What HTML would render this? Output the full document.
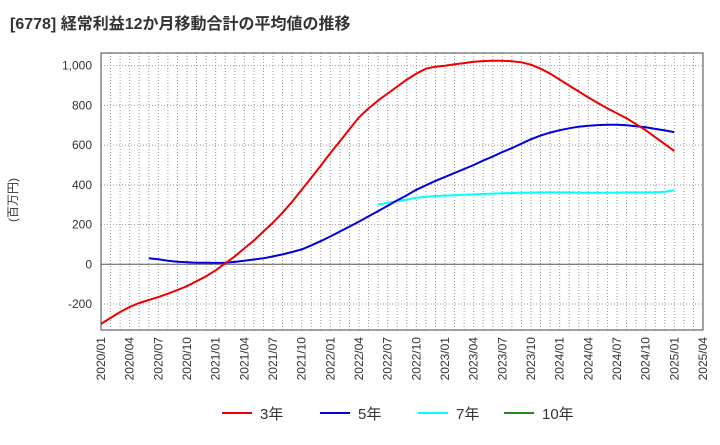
<!DOCTYPE html>
<html><head><meta charset="utf-8"><style>
body{margin:0;background:#fff;font-family:"Liberation Sans","Noto Sans CJK JP",sans-serif}
</style></head><body>
<svg id="c" width="720" height="440" xmlns="http://www.w3.org/2000/svg"></svg>
<script>
const months=[];for(let y=2020;y<=2025;y++)for(let m=1;m<=12;m++){if(y==2025&&m>4)break;months.push(y+'/'+String(m).padStart(2,'0'));}
const yTicks=[-200,0,200,400,600,800,1000];
const s3=[-300,-270,-240,-215,-195,-180,-165,-148,-130,-110,-85,-60,
-30,5,40,80,120,165,210,260,315,375,435,497,
560,620,680,740,785,825,860,895,930,960,985,995,
1000,1007,1013,1020,1023,1025,1025,1022,1017,1005,985,960,
930,900,870,840,812,785,760,735,705,675,640,605,570];
const s5Start=5;
const s5=[30,25,18,13,10,8,8,
7,8,12,18,24,30,40,50,62,75,95,117,
140,165,190,215,242,268,295,322,348,375,398,420,
440,460,480,500,522,543,565,585,607,630,648,663,
675,685,693,698,701,703,703,700,695,690,682,674,665];
const s7Start=29;
const s7=[300,310,318,326,335,340,344,
346,348,350,352,354,356,358,359,360,361,362,362,
362,362,361,360,360,361,361,362,362,362,363,365,372];
const s10=[];
const L=101,R=703,T=53,B=330;
const x=i=>L+(R-L)*i/63;
const y=v=>264.3-(v)*(198.6/1000);
const svg=document.getElementById('c');const NS='http://www.w3.org/2000/svg';
function el(t,a,p){const e=document.createElementNS(NS,t);for(const k in a)e.setAttribute(k,a[k]);(p||svg).appendChild(e);return e;}
const t=el('text',{x:10,y:29,'font-size':16,'font-weight':'bold',fill:'#333'});t.textContent='[6778]  経常利益12か月移動合計の平均値の推移';
t.setAttribute('xml:space','preserve');

const g=el('g',{});
for(let i=1;i<63;i++)el('line',{x1:x(i),x2:x(i),y1:T,y2:B,stroke:'#999','stroke-dasharray':'1,2','stroke-width':1},g);
yTicks.forEach(v=>{if(v!==0)el('line',{x1:L,x2:R,y1:y(v),y2:y(v),stroke:'#999','stroke-dasharray':'1,2'},g);
const tx=el('text',{x:92,y:y(v)+4,'font-size':12,'text-anchor':'end',fill:'#333'});tx.textContent=v.toLocaleString('en-US');
});
el('line',{x1:L,x2:R,y1:y(0),y2:y(0),stroke:'#555'},g);
months.forEach((m,i)=>{if(i%3)return;const tx=el('text',{transform:`translate(${x(i)+4},337) rotate(-90)`,'font-size':12,'text-anchor':'end',fill:'#333'});tx.textContent=m;
});
const fr=el('rect',{x:L,y:T,width:R-L,height:B-T,fill:'none',stroke:'#444'});
const yl=el('text',{transform:'translate(17,200) rotate(-90)','font-size':12,'text-anchor':'middle',fill:'#333'});yl.textContent='(百万円)';

function line(data,start,color,name){if(!data.length)return;const p=el('path',{d:data.map((v,i)=>(i?'L':'M')+x(start+i).toFixed(1)+','+y(v).toFixed(1)).join(''),fill:'none',stroke:color,'stroke-width':2});
}
line(s7,s7Start,'#00ffff','series-7yr');line(s5,s5Start,'#0000dd','series-5yr');line(s3,0,'#ee0000','series-3yr');line(s10,0,'#228822','series-10yr');
[['3年','#ee0000',222],['5年','#0000dd',320],['7年','#00ffff',418],['10年','#228822',504]].forEach(([n,c,lx])=>{
const lg=el('g',{});
el('line',{x1:lx,x2:lx+30,y1:413,y2:413,stroke:c,'stroke-width':2},lg);
const tx=el('text',{x:lx+38,y:419,'font-size':15,fill:'#333'},lg);tx.textContent=n;});
</script></body></html>
